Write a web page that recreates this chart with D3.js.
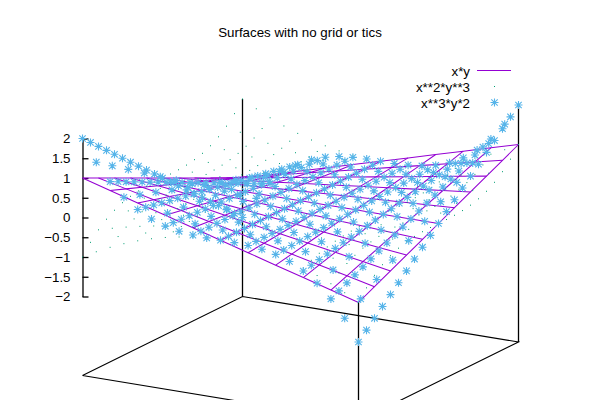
<!DOCTYPE html>
<html><head><meta charset="utf-8">
<script src="https://cdn.jsdelivr.net/npm/d3@7"></script>
<style>html,body{margin:0;padding:0;background:#fff}svg{display:block}text{font-family:"Liberation Sans",Arial,sans-serif;font-size:13.33px;fill:#000}</style>
</head><body><svg id="c" width="600" height="400"></svg>
<script>
const titleText = "Surfaces with no grid or tics";
const legendLabels = ["x*y", "x**2*y**3", "x**3*y*2"];
const zTicks = [-2,-1.5,-1,-0.5,0,0.5,1,1.5,2];
const xSamples = [-1,-.9,-.8,-.7,-.6,-.5,-.4,-.3,-.2,-.1,0,.1,.2,.3,.4,.5,.6,.7,.8,.9,1];
const yFine = [-1,-.9,-.8,-.7,-.6,-.5,-.4,-.3,-.2,-.1,0,.1,.2,.3,.4,.5,.6,.7,.8,.9,1];
const yCoarse = [-1,-.8,-.6,-.4,-.2,0,.2,.4,.6,.8,1];
const xCoarse = [-1,-.8,-.6,-.4,-.2,0,.2,.4,.6,.8,1];
// surface 1: z on the 11 x 11 isoline grid (rows: x, columns: y)
const zXY = [
[1,.8,.6,.4,.2,0,-.2,-.4,-.6,-.8,-1],
[.8,.64,.48,.32,.16,0,-.16,-.32,-.48,-.64,-.8],
[.6,.48,.36,.24,.12,0,-.12,-.24,-.36,-.48,-.6],
[.4,.32,.24,.16,.08,0,-.08,-.16,-.24,-.32,-.4],
[.2,.16,.12,.08,.04,0,-.04,-.08,-.12,-.16,-.2],
[0,0,0,0,0,0,0,0,0,0,0],
[-.2,-.16,-.12,-.08,-.04,0,.04,.08,.12,.16,.2],
[-.4,-.32,-.24,-.16,-.08,0,.08,.16,.24,.32,.4],
[-.6,-.48,-.36,-.24,-.12,0,.12,.24,.36,.48,.6],
[-.8,-.64,-.48,-.32,-.16,0,.16,.32,.48,.64,.8],
[-1,-.8,-.6,-.4,-.2,0,.2,.4,.6,.8,1]];
// surface 2: rows with 21 values use yFine, rows with 11 values use yCoarse
const zDots = [
[-1,-.729,-.512,-.343,-.216,-.125,-.064,-.027,-.008,-.001,0,.001,.008,.027,.064,.125,.216,.343,.512,.729,1],
[-.81,-.415,-.175,-.052,-.006,0,.006,.052,.175,.415,.81],
[-.64,-.467,-.328,-.22,-.138,-.08,-.041,-.017,-.005,-.001,0,.001,.005,.017,.041,.08,.138,.22,.328,.467,.64],
[-.49,-.251,-.106,-.031,-.004,0,.004,.031,.106,.251,.49],
[-.36,-.262,-.184,-.123,-.078,-.045,-.023,-.01,-.003,0,0,0,.003,.01,.023,.045,.078,.123,.184,.262,.36],
[-.25,-.128,-.054,-.016,-.002,0,.002,.016,.054,.128,.25],
[-.16,-.117,-.082,-.055,-.035,-.02,-.01,-.004,-.001,0,0,0,.001,.004,.01,.02,.035,.055,.082,.117,.16],
[-.09,-.046,-.019,-.006,-.001,0,.001,.006,.019,.046,.09],
[-.04,-.029,-.02,-.014,-.009,-.005,-.003,-.001,0,0,0,0,0,.001,.003,.005,.009,.014,.02,.029,.04],
[-.01,-.005,-.002,-.001,0,0,0,.001,.002,.005,.01],
[0,0,0,0,0,0,0,0,0,0,0,0,0,0,0,0,0,0,0,0,0],
[-.01,-.005,-.002,-.001,0,0,0,.001,.002,.005,.01],
[-.04,-.029,-.02,-.014,-.009,-.005,-.003,-.001,0,0,0,0,0,.001,.003,.005,.009,.014,.02,.029,.04],
[-.09,-.046,-.019,-.006,-.001,0,.001,.006,.019,.046,.09],
[-.16,-.117,-.082,-.055,-.035,-.02,-.01,-.004,-.001,0,0,0,.001,.004,.01,.02,.035,.055,.082,.117,.16],
[-.25,-.128,-.054,-.016,-.002,0,.002,.016,.054,.128,.25],
[-.36,-.262,-.184,-.123,-.078,-.045,-.023,-.01,-.003,0,0,0,.003,.01,.023,.045,.078,.123,.184,.262,.36],
[-.49,-.251,-.106,-.031,-.004,0,.004,.031,.106,.251,.49],
[-.64,-.467,-.328,-.22,-.138,-.08,-.041,-.017,-.005,-.001,0,.001,.005,.017,.041,.08,.138,.22,.328,.467,.64],
[-.81,-.415,-.175,-.052,-.006,0,.006,.052,.175,.415,.81],
[-1,-.729,-.512,-.343,-.216,-.125,-.064,-.027,-.008,-.001,0,.001,.008,.027,.064,.125,.216,.343,.512,.729,1]];
// surface 3
const zStars = [
[2,1.8,1.6,1.4,1.2,1,.8,.6,.4,.2,0,-.2,-.4,-.6,-.8,-1,-1.2,-1.4,-1.6,-1.8,-2],
[1.458,1.166,.875,.583,.292,0,-.292,-.583,-.875,-1.166,-1.458],
[1.024,.922,.819,.717,.614,.512,.41,.307,.205,.102,0,-.102,-.205,-.307,-.41,-.512,-.614,-.717,-.819,-.922,-1.024],
[.686,.549,.412,.274,.137,0,-.137,-.274,-.412,-.549,-.686],
[.432,.389,.346,.302,.259,.216,.173,.13,.086,.043,0,-.043,-.086,-.13,-.173,-.216,-.259,-.302,-.346,-.389,-.432],
[.25,.2,.15,.1,.05,0,-.05,-.1,-.15,-.2,-.25],
[.128,.115,.102,.09,.077,.064,.051,.038,.026,.013,0,-.013,-.026,-.038,-.051,-.064,-.077,-.09,-.102,-.115,-.128],
[.054,.043,.032,.022,.011,0,-.011,-.022,-.032,-.043,-.054],
[.016,.014,.013,.011,.01,.008,.006,.005,.003,.002,0,-.002,-.003,-.005,-.006,-.008,-.01,-.011,-.013,-.014,-.016],
[.002,.002,.001,.001,0,0,0,-.001,-.001,-.002,-.002],
[0,0,0,0,0,0,0,0,0,0,0,0,0,0,0,0,0,0,0,0,0],
[-.002,-.002,-.001,-.001,0,0,0,.001,.001,.002,.002],
[-.016,-.014,-.013,-.011,-.01,-.008,-.006,-.005,-.003,-.002,0,.002,.003,.005,.006,.008,.01,.011,.013,.014,.016],
[-.054,-.043,-.032,-.022,-.011,0,.011,.022,.032,.043,.054],
[-.128,-.115,-.102,-.09,-.077,-.064,-.051,-.038,-.026,-.013,0,.013,.026,.038,.051,.064,.077,.09,.102,.115,.128],
[-.25,-.2,-.15,-.1,-.05,0,.05,.1,.15,.2,.25],
[-.432,-.389,-.346,-.302,-.259,-.216,-.173,-.13,-.086,-.043,0,.043,.086,.13,.173,.216,.259,.302,.346,.389,.432],
[-.686,-.549,-.412,-.274,-.137,0,.137,.274,.412,.549,.686],
[-1.024,-.922,-.819,-.717,-.614,-.512,-.41,-.307,-.205,-.102,0,.102,.205,.307,.41,.512,.614,.717,.819,.922,1.024],
[-1.458,-1.166,-.875,-.583,-.292,0,.292,.583,.875,1.166,1.458],
[-2,-1.8,-1.6,-1.4,-1.2,-1,-.8,-.6,-.4,-.2,0,.2,.4,.6,.8,1,1.2,1.4,1.6,1.8,2]];
// uprights: [x, y, top z]; they all start at the base plane
const baseZ = -4;
const uprights = [[-1,1,1],[1,1,2],[1,-1,-1]];
const baseCorners = [[-1,-1],[1,-1],[1,1],[-1,1],[-1,-1]];

const PURPLE="#9400d3", TEAL="#009e73", BLUE="#56b4e9";
const svg = d3.select("#c");
const xPx = d3.scaleLinear([-1,1],[0,276]);
const xPy = d3.scaleLinear([-1,1],[0,45.5]);
const yPx = d3.scaleLinear([-1,1],[0,160]);
const yPy = d3.scaleLinear([-1,1],[0,-79]);
const zPy = d3.scaleLinear([-2,2],[296.5,138.5]);
const px = (x,y)=>82.5+xPx(x)+yPx(y);
const py = (x,y,z)=>zPy(z)+xPy(x)+yPy(y);
const line3 = d3.line().x(d=>px(d[0],d[1])).y(d=>py(d[0],d[1],d[2]));

// title
svg.append("text").attr("x",300).attr("y",37).attr("text-anchor","middle").text(titleText);

// base plane and uprights
svg.append("path").attr("d",line3(baseCorners.map(c=>[c[0],c[1],baseZ]))).attr("fill","none").attr("stroke","#000").attr("stroke-width",1.1);
svg.selectAll(".up").data(uprights).join("path").attr("class","up")
  .attr("d",u=>line3([[u[0],u[1],baseZ],[u[0],u[1],u[2]]])).attr("fill","none").attr("stroke","#000").attr("stroke-width",1.3);

// z axis
const gz = svg.append("g").attr("transform","translate(82.5,0)")
  .call(d3.axisLeft(zPy).tickValues(zTicks).tickFormat(d3.format("")).tickSizeInner(-6).tickSizeOuter(0).tickPadding(12));
gz.selectAll("path,line").attr("stroke","#000").attr("stroke-width",1.3);
gz.selectAll("text").style("font-family",'"Liberation Sans",Arial,sans-serif').style("font-size","13.33px").attr("fill","#000");

// surface 1
const isoLines = [];
zXY.forEach((r,i)=>isoLines.push(r.map((z,j)=>[xCoarse[i],yCoarse[j],z])));
yCoarse.forEach((y,j)=>isoLines.push(zXY.map((r,i)=>[xCoarse[i],y,r[j]])));
svg.append("g").selectAll("path").data(isoLines).join("path").attr("d",line3)
  .attr("fill","none").attr("stroke",PURPLE).attr("stroke-width",1.05);

function flatten(table){
  const pts=[];
  table.forEach((r,i)=>{const ys=r.length===21?yFine:yCoarse;r.forEach((z,j)=>pts.push([xSamples[i],ys[j],z]));});
  return pts;
}
// surface 2
svg.append("g").selectAll("rect").data(flatten(zDots)).join("rect")
  .attr("x",d=>px(d[0],d[1])-.5).attr("y",d=>py(d[0],d[1],d[2])-.5).attr("width",1).attr("height",1).attr("fill",TEAL);

// surface 3
const starSym = {draw(ctx,size){const r=Math.sqrt(size);
  ctx.moveTo(-r,0);ctx.lineTo(r,0);ctx.moveTo(0,-r);ctx.lineTo(0,r);
  const q=r*.8;ctx.moveTo(-q,-q);ctx.lineTo(q,q);ctx.moveTo(-q,q);ctx.lineTo(q,-q);}};
const star = d3.symbol(starSym,16)();
svg.append("g").selectAll("path").data(flatten(zStars)).join("path").attr("d",star)
  .attr("transform",d=>`translate(${px(d[0],d[1])},${py(d[0],d[1],d[2])})`)
  .attr("fill","none").attr("stroke",BLUE).attr("stroke-width",1.1);

// legend
const lg = svg.append("g");
legendLabels.forEach((t,i)=>{
  const y=71+i*16;
  lg.append("text").attr("x",470).attr("y",y+4.5).attr("text-anchor","end").text(t);
});
lg.append("line").attr("x1",477).attr("x2",511).attr("y1",70.5).attr("y2",70.5).attr("stroke",PURPLE).attr("stroke-width",1.05);
lg.append("rect").attr("x",494).attr("y",86).attr("width",1).attr("height",1).attr("fill",TEAL);
lg.append("path").attr("d",star).attr("transform","translate(494.5,102.5)").attr("fill","none").attr("stroke",BLUE).attr("stroke-width",1.1);
</script></body></html>
